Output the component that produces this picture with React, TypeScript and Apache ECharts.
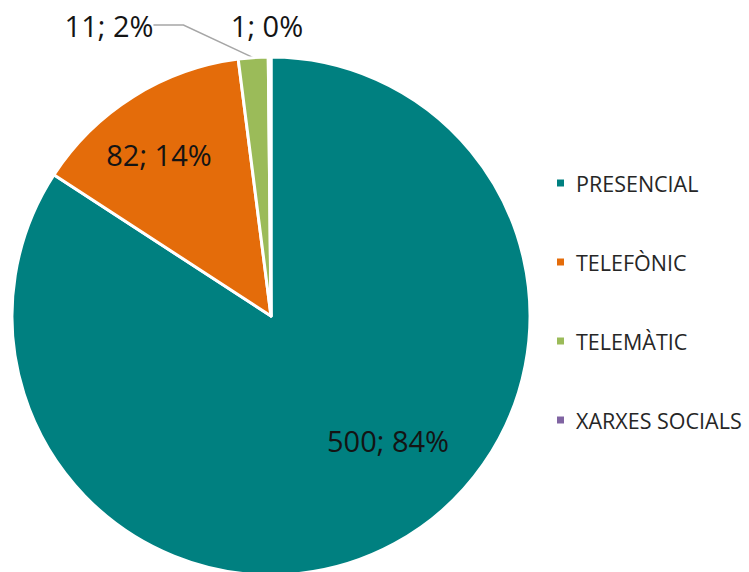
import React, { useEffect, useRef } from "react";
import * as echarts from "echarts";

const categories = ["PRESENCIAL", "TELEFÒNIC", "TELEMÀTIC", "XARXES SOCIALS"];
const values = [500, 82, 11, 1];
const colors = ["#008080", "#E46C0A", "#9BBB59", "#8064A2"];

// label anchor points (layout only)
const labelAnchors: [number, number][] = [
  [388, 440],
  [159, 154],
  [109, 25],
  [267, 25],
];

export default function App() {
  const ref = useRef<HTMLDivElement>(null);
  useEffect(() => {
    if (!ref.current) return;
    const chart = echarts.init(ref.current, undefined, { renderer: "svg" });
    const font = "Open Sans";
    chart.setOption({
      animation: false,
      backgroundColor: "#ffffff",
      legend: {
        orient: "vertical",
        left: 550,
        top: 166,
        itemWidth: 9,
        itemHeight: 9,
        itemGap: 55,
        icon: "rect",
        data: categories,
        textStyle: {
          fontFamily: font,
          fontSize: 21.5,
          lineHeight: 24,
          color: "#262626",
          padding: [0, 0, 0, 6],
        },
      },
      series: [
        {
          type: "pie",
          center: [271, 316],
          radius: 259,
          startAngle: 90,
          clockwise: true,
          percentPrecision: 0,
          itemStyle: { borderColor: "#ffffff", borderWidth: 3 },
          label: {
            show: true,
            formatter: "{c}; {d}%",
            fontFamily: font,
            fontSize: 29,
            color: "#141414",
          },
          labelLine: {
            show: true,
            lineStyle: { color: "#A6A6A6", width: 1.5 },
          },
          labelLayout: (params: any) => {
            const p = labelAnchors[params.dataIndex];
            return { x: p[0], y: p[1], align: "center", verticalAlign: "middle" };
          },
          data: categories.map((name, i) => ({
            name,
            value: values[i],
            itemStyle: { color: colors[i] },
            label: { position: i < 2 ? "inside" : "outside" },
            labelLine: { show: i === 2 },
          })),
        },
      ],
    });
    return () => chart.dispose();
  }, []);
  return (
    <div
      ref={ref}
      style={{ position: "fixed", left: 0, top: 0, width: 749, height: 572 }}
    />
  );
}
